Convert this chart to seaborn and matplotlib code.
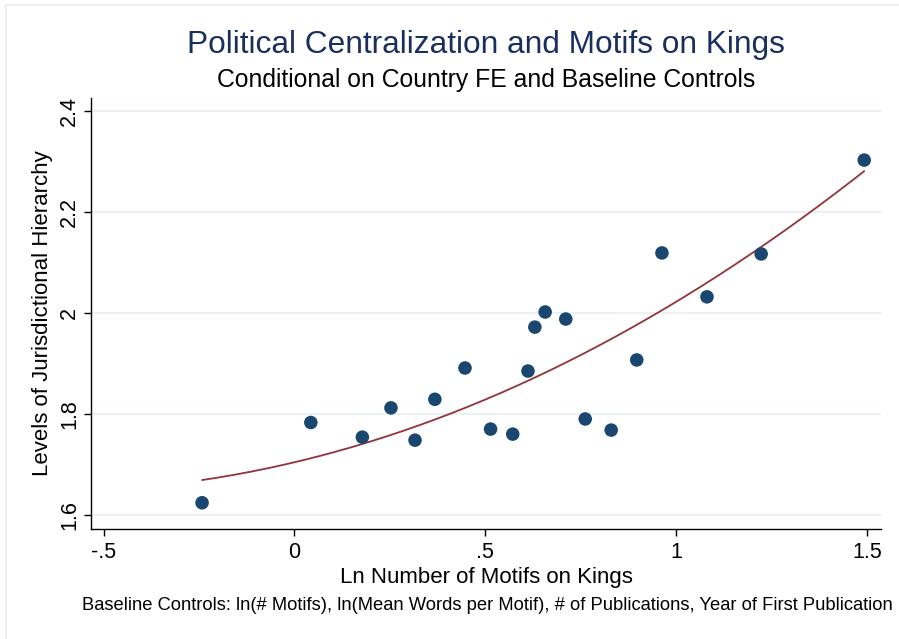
import matplotlib
matplotlib.use("Agg")
import matplotlib.pyplot as plt
from matplotlib.lines import Line2D
import numpy as np
import pandas as pd
import seaborn as sns

# Binned means: log count of king motifs vs. jurisdictional hierarchy
ln_motifs_kings = [-0.242, 0.043, 0.178, 0.253, 0.316, 0.368, 0.447, 0.514, 0.572, 0.612,
                   0.630, 0.657, 0.711, 0.762, 0.830, 0.897, 0.963, 1.081, 1.223, 1.493]
jurisdictional_hierarchy = [1.624, 1.783, 1.754, 1.812, 1.748, 1.829, 1.891, 1.770, 1.760, 1.885,
                            1.972, 2.002, 1.988, 1.790, 1.768, 1.907, 2.119, 2.032, 2.117, 2.303]

# Quadratic fit estimated on the underlying observations: y = c0 + c1*x + c2*x^2
qfit_coefs = [1.7042, 0.1790, 0.1389]

x_ticks = [-0.5, 0, 0.5, 1, 1.5]
x_tick_labels = ["-.5", "0", ".5", "1", "1.5"]
y_ticks = [1.6, 1.8, 2.0, 2.2, 2.4]
y_tick_labels = ["1.6", "1.8", "2", "2.2", "2.4"]

df = pd.DataFrame({"x": ln_motifs_kings, "y": jurisdictional_hierarchy})

# Fitted curve evaluated over the range of the bins
fit_x = np.linspace(min(ln_motifs_kings), max(ln_motifs_kings), 200)
fit_df = pd.DataFrame({"x": fit_x,
                       "y": qfit_coefs[0] + qfit_coefs[1] * fit_x + qfit_coefs[2] * fit_x ** 2})

sns.set_theme(style="white")
plt.rcParams["font.family"] = ["Liberation Sans", "DejaVu Sans"]

NAVY = "#1a476f"
MAROON = "#90353b"
GRID = "#eaf1f3"

fig = plt.figure(figsize=(8.99, 6.39), dpi=100)
fig.patch.set_facecolor("white")
ax = fig.add_axes([91 / 899, 1 - 529 / 639, 790 / 899, 431 / 639])

sns.lineplot(data=fit_df, x="x", y="y", ax=ax, color=MAROON, lw=1.3, zorder=3)
sns.scatterplot(data=df, x="x", y="y", ax=ax, color=NAVY, s=95, edgecolor="none", zorder=4)

ax.set_xlim(-0.533, 1.537)
ax.set_ylim(1.572, 2.426)

ax.set_yticks(y_ticks)
ax.set_yticklabels(y_tick_labels, rotation=90, va="center", fontsize=15.5)
ax.set_xticks(x_ticks)
ax.set_xticklabels(x_tick_labels, fontsize=15.5)

for yv in y_ticks:
    ax.axhline(yv, color=GRID, lw=1.5, zorder=0)

for side in ["top", "right"]:
    ax.spines[side].set_visible(False)
for side in ["left", "bottom"]:
    ax.spines[side].set_color("#000000")
    ax.spines[side].set_linewidth(1.0)

ax.tick_params(axis="both", which="both", direction="out", length=5, width=1.0,
               color="#000000", labelcolor="#000000", bottom=True, left=True)
ax.tick_params(axis="y", pad=3)
ax.tick_params(axis="x", pad=4)

ax.set_xlabel("Ln Number of Motifs on Kings", fontsize=16, labelpad=3, color="black")
ax.set_ylabel("Levels of Jurisdictional Hierarchy", fontsize=16, labelpad=4, color="black")

fig.text(486 / 899, 1 - 45 / 639, "Political Centralization and Motifs on Kings",
         ha="center", va="center", fontsize=22.8, color="#1a2f5e")
fig.text(486 / 899, 1 - 80 / 639, "Conditional on Country FE and Baseline Controls",
         ha="center", va="center", fontsize=17.8, color="black")
fig.text(893 / 899, 1 - 606 / 639,
         "Baseline Controls: ln(# Motifs), ln(Mean Words per Motif), # of Publications, Year of First Publication",
         ha="right", va="center", fontsize=13.2, color="black")

# Faint outer frame lines
fig.add_artist(Line2D([5.5 / 899, 5.5 / 899], [0, 1 - 5 / 639], transform=fig.transFigure,
                      color="#e6eef2", lw=1.2))
fig.add_artist(Line2D([5.5 / 899, 1], [1 - 5 / 639, 1 - 5 / 639], transform=fig.transFigure,
                      color="#e6eef2", lw=1.2))

fig.savefig("out.png", dpi=100, facecolor="white")
